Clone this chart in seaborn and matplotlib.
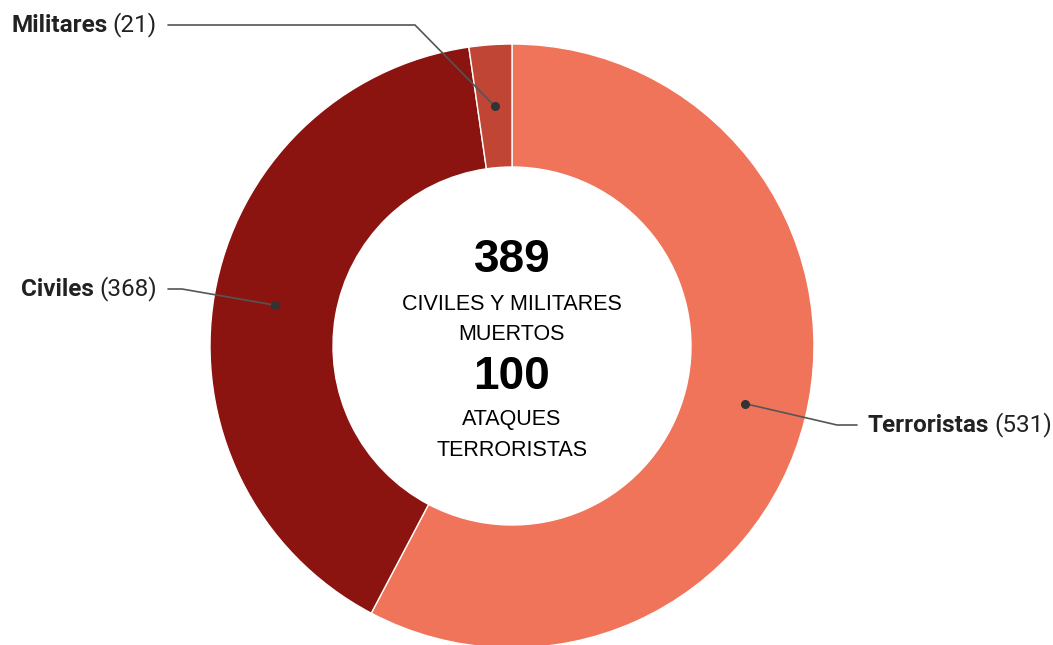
import matplotlib
matplotlib.use("Agg")
import matplotlib.pyplot as plt
import numpy as np
import seaborn as sns

# ---------------------
# Datos
# ---------------------
categorias = ["Terroristas", "Civiles", "Militares"]
valores = [531, 368, 21]
colores = ["#F0745A", "#8B1310", "#C04535"]

centro_titulos = ["389", "100"]
centro_textos = [["CIVILES Y MILITARES", "MUERTOS"], ["ATAQUES", "TERRORISTAS"]]

# ---------------------
# Configuración
# ---------------------
sns.set_theme(style="white")
plt.rcParams["font.family"] = ["Roboto", "DejaVu Sans"]

W, H = 1053, 645
fig = plt.figure(figsize=(W / 100, H / 100), dpi=100)
ax = fig.add_axes([0, 0, 1, 1])

def py(y):
    # pixel desde arriba -> coordenada de datos
    return H - y

cx, cy = 512, py(346)
R, ancho = 302, 123

wedges, _ = ax.pie(valores, colors=colores, startangle=90, counterclock=False,
                   radius=R, center=(cx, cy),
                   wedgeprops=dict(width=ancho, edgecolor="white", linewidth=1.0))

ax.set_xlim(0, W)
ax.set_ylim(0, H)
ax.set_aspect("equal")
ax.axis("off")

# posiciones de los rótulos: (codo, fin de linea, x del texto, alineacion)
rotulos = {
    "Terroristas": ((837, 425), (857, 425), 868, "left"),
    "Civiles": ((182, 289), (168, 289), 157, "right"),
    "Militares": ((415, 25), (168, 25), 157, "right"),
}

fig.canvas.draw()
renderer = fig.canvas.get_renderer()
color_txt = "#222222"
fs = 17.5
espacio = 5

for w, nombre, val in zip(wedges, categorias, valores):
    ang = np.deg2rad((w.theta1 + w.theta2) / 2)
    rm = R - ancho / 2
    px, pyy = cx + rm * np.cos(ang), cy + rm * np.sin(ang)
    (ex, ey), (fx, fy), tx, ha = rotulos[nombre]
    ax.plot([px, ex, fx], [pyy, py(ey), py(fy)], color="#555555", lw=1.2,
            solid_joinstyle="miter")
    ax.plot(px, pyy, "o", color="#333333", ms=5.5)
    ty = py(fy)
    if ha == "left":
        t1 = ax.text(tx, ty, nombre, ha="left", va="center", fontsize=fs,
                     fontweight="bold", color=color_txt)
        bb = t1.get_window_extent(renderer)
        ax.text(tx + bb.width + espacio, ty, f"({val})", ha="left", va="center",
                fontsize=fs, color=color_txt)
    else:
        t2 = ax.text(tx, ty, f"({val})", ha="right", va="center", fontsize=fs,
                     color=color_txt)
        bb = t2.get_window_extent(renderer)
        ax.text(tx - bb.width - espacio, ty, nombre, ha="right", va="center",
                fontsize=fs, fontweight="bold", color=color_txt)

# texto central
fam = ["Liberation Sans", "DejaVu Sans"]
pos_titulos = [260, 377]
pos_lineas = [[305, 335], [420, 451]]
for titulo, yt, lineas, ys in zip(centro_titulos, pos_titulos, centro_textos, pos_lineas):
    ax.text(cx, py(yt), titulo, ha="center", va="center", fontsize=33,
            fontweight="bold", family=fam, color="black")
    for linea, yl in zip(lineas, ys):
        ax.text(cx, py(yl), linea, ha="center", va="center", fontsize=15.5,
                family=fam, color="black")

fig.savefig("out.png", dpi=100)
